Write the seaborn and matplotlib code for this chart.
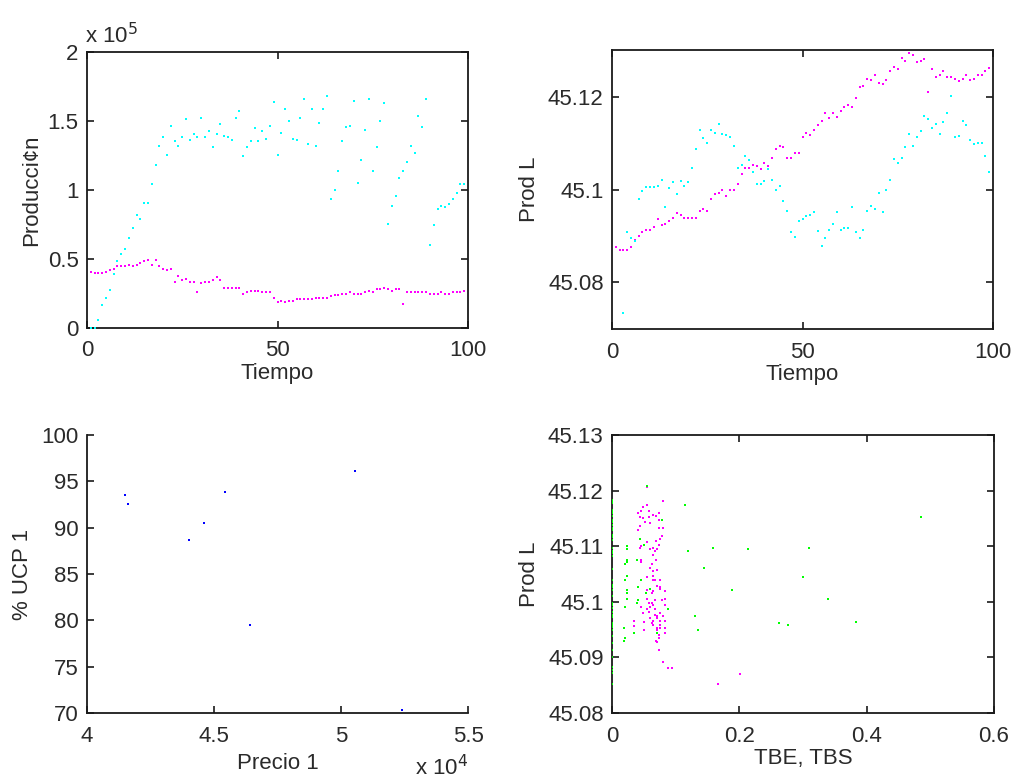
import numpy as np
import pandas as pd
import matplotlib
matplotlib.use("Agg")
import matplotlib.pyplot as plt
from matplotlib.ticker import FuncFormatter
import seaborn as sns

# ---------------- data ----------------
tiempo = list(range(1, 100))

# Producción (units of 1e5)
prod_cyan_e5 = [0.0, 0.0, 0.060, 0.164, 0.219, 0.272, 0.388, 0.482, 0.535, 0.576,
                0.651, 0.728, 0.822, 0.790, 0.906, 0.906, 1.043, 1.183, 1.318, 1.383,
                1.255, 1.467, 1.352, 1.318, 1.383, 1.511, 1.361, 1.405, 1.383, 1.520,
                1.383, 1.427, 1.308, 1.405, 1.477, 1.393, 1.383, 1.361, 1.520, 1.573,
                1.246, 1.308, 1.352, 1.446, 1.352, 1.427, 1.371, 1.467, 1.639, 1.255,
                1.414, 1.586, 1.499, 1.373, 1.361, 1.520, 1.660, 1.330, 1.586, 1.318,
                1.489, 1.586, 1.682, 0.937, 1.000, 1.140, 1.352, 1.458, 1.467, 1.648,
                1.053, 1.214, 1.436, 1.660, 1.140, 1.308, 1.499, 1.627, 0.757, 0.884,
                0.959, 1.087, 1.140, 1.202, 1.318, 1.265, 1.533, 1.458, 1.660, 0.598,
                0.747, 0.863, 0.884, 0.875, 0.896, 0.937, 0.981, 1.043, 1.043]
prod_mag_e5 = [0.407, 0.398, 0.398, 0.398, 0.407, 0.419, 0.429, 0.451, 0.451, 0.451,
               0.460, 0.451, 0.460, 0.472, 0.482, 0.494, 0.460, 0.494, 0.451, 0.429,
               0.419, 0.429, 0.333, 0.376, 0.345, 0.354, 0.333, 0.333, 0.258, 0.323,
               0.333, 0.333, 0.345, 0.366, 0.345, 0.292, 0.292, 0.292, 0.292, 0.292,
               0.248, 0.258, 0.270, 0.270, 0.270, 0.258, 0.258, 0.258, 0.219, 0.186,
               0.198, 0.186, 0.198, 0.198, 0.207, 0.207, 0.207, 0.207, 0.207, 0.219,
               0.219, 0.219, 0.219, 0.231, 0.239, 0.239, 0.248, 0.248, 0.258, 0.248,
               0.248, 0.248, 0.258, 0.270, 0.258, 0.282, 0.282, 0.292, 0.282, 0.270,
               0.282, 0.282, 0.173, 0.258, 0.258, 0.258, 0.258, 0.258, 0.258, 0.248,
               0.248, 0.248, 0.258, 0.248, 0.248, 0.258, 0.258, 0.258, 0.270]

# Prod L
prodL_cyan = [np.nan, np.nan, 45.0734, 45.0908, 45.0895, 45.0889, 45.0981, 45.0997, 45.1006, 45.1006,
              45.1006, 45.1009, 45.1022, 45.0962, 45.1003, 45.1016, 45.0990, 45.1019, 45.1009, 45.1016,
              45.1048, 45.1089, 45.1130, 45.1111, 45.1101, 45.1130, 45.1123, 45.1143, 45.1121, 45.1118,
              45.1114, 45.1095, 45.1048, 45.1054, 45.1073, 45.1064, 45.1038, 45.1012, 45.1012, 45.1019,
              45.1044, 45.1022, 45.1000, 45.1009, 45.0975, 45.0955, 45.0908, 45.0898, 45.0933, 45.0936,
              45.0943, 45.0946, 45.0952, 45.0910, 45.0879, 45.0895, 45.0914, 45.0926, 45.0952, 45.0914,
              45.0917, 45.0917, 45.0962, 45.0908, 45.0895, 45.0914, 45.0955, 45.0965, 45.0958, 45.0994,
              45.0952, 45.1000, 45.1022, 45.1066, 45.1057, 45.1069, 45.1092, 45.1121, 45.1095, 45.1114,
              45.1127, 45.1159, 45.1152, 45.1133, 45.1143, 45.1121, 45.1146, 45.1165, 45.1203, 45.1114,
              45.1117, 45.1149, 45.1139, 45.1108, 45.1098, 45.1101, 45.1101, 45.1073, 45.1038]
prodL_mag = [45.0876, 45.0869, 45.0869, 45.0869, 45.0876, 45.0892, 45.0901, 45.0908, 45.0914, 45.0914,
             45.0920, 45.0936, 45.0923, 45.0926, 45.0933, 45.0939, 45.0949, 45.0946, 45.0939, 45.0939,
             45.0939, 45.0939, 45.0955, 45.0958, 45.0955, 45.0981, 45.0990, 45.0994, 45.0999, 45.0987,
             45.0999, 45.0999, 45.1012, 45.1035, 45.1048, 45.1048, 45.1054, 45.1051, 45.1044, 45.1057,
             45.1051, 45.1069, 45.1089, 45.1095, 45.1092, 45.1069, 45.1069, 45.1079, 45.1079, 45.1114,
             45.1123, 45.1118, 45.1130, 45.1139, 45.1149, 45.1165, 45.1155, 45.1165, 45.1158, 45.1171,
             45.1178, 45.1183, 45.1178, 45.1199, 45.1222, 45.1225, 45.1240, 45.1238, 45.1247, 45.1231,
             45.1228, 45.1238, 45.1256, 45.1266, 45.1260, 45.1284, 45.1279, 45.1295, 45.1291, 45.1275,
             45.1279, 45.1282, 45.1212, 45.1260, 45.1244, 45.1247, 45.1256, 45.1244, 45.1244, 45.1240,
             45.1234, 45.1240, 45.1247, 45.1238, 45.1240, 45.1247, 45.1247, 45.1256, 45.1263]

# Precio 1 vs % UCP 1
precio1 = [41496, 41614, 44029, 44606, 45420, 46404, 50551, 52402]
ucp1 = [93.53, 92.60, 88.65, 90.55, 93.89, 79.49, 96.08, 70.32]

# TBE (magenta) vs Prod L
tbe_x = [0.0554, 0.0804, 0.0480, 0.0548, 0.0413, 0.0460, 0.0574, 0.0642, 0.0731, 0.0689,
         0.0439, 0.0480, 0.0574, 0.0512, 0.0595, 0.0731, 0.0439, 0.0736, 0.0804, 0.0413,
         0.0783, 0.0757, 0.0689, 0.0548, 0.0736, 0.0460, 0.0439, 0.0595, 0.0642, 0.0668,
         0.0710, 0.0642, 0.0689, 0.0460, 0.0460, 0.0621, 0.0595, 0.0710, 0.0642, 0.0553,
         0.0642, 0.0642, 0.0668, 0.0757, 0.0710, 0.0757, 0.0757, 0.0553, 0.0642, 0.0621,
         0.0825, 0.0548, 0.0668, 0.0783, 0.0825, 0.0574, 0.0621, 0.0642, 0.0460, 0.0548,
         0.0595, 0.0668, 0.0825, 0.0480, 0.0574, 0.0757, 0.0668, 0.0710, 0.0710, 0.0804,
         0.0595, 0.0507, 0.0642, 0.0757, 0.0825, 0.0621, 0.0642, 0.0757, 0.0345, 0.0345,
         0.0710, 0.0757, 0.0825, 0.0710, 0.0507, 0.0710, 0.0731, 0.0825, 0.0731, 0.0689,
         0.0710, 0.0736, 0.0804, 0.0872, 0.0940, 0.1671, 0.2005]
tbe_y = [45.1207, 45.1181, 45.1171, 45.1174, 45.1160, 45.1163, 45.1163, 45.1157, 45.1160, 45.1155,
         45.1153, 45.1150, 45.1153, 45.1144, 45.1142, 45.1147, 45.1137, 45.1132, 45.1132, 45.1129,
         45.1119, 45.1113, 45.1110, 45.1108, 45.1102, 45.1100, 45.1097, 45.1095, 45.1097, 45.1092,
         45.1095, 45.1084, 45.1076, 45.1076, 45.1071, 45.1068, 45.1060, 45.1058, 45.1055, 45.1045,
         45.1047, 45.1040, 45.1040, 45.1040, 45.1029, 45.1026, 45.1023, 45.1021, 45.1019, 45.1016,
         45.1019, 45.1005, 45.1003, 45.1003, 45.1005, 45.0998, 45.0998, 45.0995, 45.0990, 45.0987,
         45.0990, 45.0987, 45.0995, 45.0979, 45.0981, 45.0979, 45.0977, 45.0974, 45.0971, 45.0974,
         45.0971, 45.0963, 45.0966, 45.0966, 45.0966, 45.0961, 45.0958, 45.0958, 45.0966, 45.0956,
         45.0953, 45.0953, 45.0953, 45.0950, 45.0950, 45.0943, 45.0940, 45.0943, 45.0935, 45.0929,
         45.0927, 45.0913, 45.0892, 45.0881, 45.0881, 45.0853, 45.0871]

# TBS (green) vs Prod L
tbs_x = [0.0] * 43 + [
    0.0554, 0.1149, 0.0783, 0.0439, 0.0507, 0.0230, 0.0230, 0.1190, 0.1587, 0.0230,
    0.0392, 0.0230, 0.0209, 0.1446, 0.0230, 0.0209, 0.0460, 0.0413, 0.0595, 0.0230,
    0.1885, 0.0230, 0.0527, 0.0230, 0.0413, 0.0392, 0.0209, 0.0872, 0.1305, 0.0183,
    0.1352, 0.0345, 0.0710, 0.0209, 0.0183, 0.2130, 0.3097, 0.4846, 0.3003, 0.3389,
    0.2616, 0.2768, 0.3828]
tbs_y = [45.1183, 45.1180, 45.1177, 45.1165, 45.1162, 45.1159, 45.1154, 45.1147, 45.1144, 45.1139,
         45.1132, 45.1129, 45.1120, 45.1117, 45.1111, 45.1096, 45.1092, 45.1087, 45.1082, 45.1059,
         45.1039, 45.1030, 45.1026, 45.1021, 45.1010, 45.0998, 45.0994, 45.0988, 45.0982, 45.0977,
         45.0972, 45.0962, 45.0958, 45.0954, 45.0949, 45.0939, 45.0926, 45.0913, 45.0901, 45.0882,
         45.0877, 45.0872, 45.0853] + [
    45.1208, 45.1174, 45.1147, 45.1113, 45.1102, 45.1100, 45.1095, 45.1092, 45.1097, 45.1076,
    45.1076, 45.1071, 45.1068, 45.1060, 45.1047, 45.1040, 45.1040, 45.1026, 45.1023, 45.1021,
    45.1021, 45.1016, 45.1016, 45.1005, 45.1003, 45.0998, 45.0990, 45.0987, 45.0974, 45.0953,
    45.0950, 45.0943, 45.0943, 45.0934, 45.0929, 45.1095, 45.1097, 45.1152, 45.1045, 45.1005,
    45.0961, 45.0958, 45.0964]

# ---------------- style ----------------
sns.set_style("white")
plt.rcParams['font.family'] = ['Liberation Sans', 'DejaVu Sans']
FS = 16
TXT = '#2a2a2a'
plt.rcParams.update({
    'font.size': FS,
    'axes.labelsize': FS,
    'xtick.labelsize': FS,
    'ytick.labelsize': FS,
    'text.color': TXT,
    'axes.labelcolor': TXT,
    'xtick.color': TXT,
    'ytick.color': TXT,
})

CYAN, MAG, GREEN, BLUE = '#00FFFF', '#FF00FF', '#00FF00', '#0000FF'
MS = 2.6

W, H = 1015, 778
fig = plt.figure(figsize=(W / 100, H / 100), dpi=100)


def box(l, t, r, b):
    return [l / W, 1 - b / H, (r - l) / W, (b - t) / H]


def style_axes(ax, full_box=True):
    for s in ax.spines.values():
        s.set_color('#1a1a1a')
        s.set_linewidth(1.3)
    if not full_box:
        ax.spines['top'].set_visible(False)
        ax.spines['right'].set_visible(False)
    ax.tick_params(direction='in', length=5, width=1.2, color='#1a1a1a',
                   top=full_box, right=full_box, bottom=True, left=True)
    ax.tick_params(axis='x', pad=9)
    ax.tick_params(axis='y', pad=6)


def fmt(v):
    s = f"{v:.4f}".rstrip('0').rstrip('.')
    return s


def scatter(ax, x, y, color, z=2):
    df = pd.DataFrame({'x': x, 'y': y})
    sns.scatterplot(data=df, x='x', y='y', color=color, s=MS, linewidth=0,
                    marker='s', ax=ax, legend=False, zorder=z)


# Top-left: Producción vs Tiempo
ax1 = fig.add_axes(box(87, 52, 468, 328))
scatter(ax1, tiempo, np.array(prod_mag_e5) * 1e5, MAG)
scatter(ax1, tiempo, np.array(prod_cyan_e5) * 1e5, CYAN, z=3)
ax1.set_xlim(0, 100)
ax1.set_ylim(0, 2e5)
ax1.set_xticks([0, 50, 100])
ax1.set_yticks([0, 0.5e5, 1e5, 1.5e5, 2e5])
ax1.yaxis.set_major_formatter(FuncFormatter(lambda v, p: fmt(v / 1e5)))
ax1.set_xlabel('Tiempo', labelpad=1)
ax1.set_ylabel('Producci\u00a2n', labelpad=4)
ax1.text(-0.005, 1.012, r'x 10$^5$', transform=ax1.transAxes, ha='left', va='bottom', fontsize=FS)
style_axes(ax1)

# Top-right: Prod L vs Tiempo
ax2 = fig.add_axes(box(612, 50, 993, 329))
scatter(ax2, tiempo, prodL_mag, MAG)
scatter(ax2, tiempo, prodL_cyan, CYAN)
ax2.set_xlim(0, 100)
ax2.set_ylim(45.0699, 45.1302)
ax2.set_xticks([0, 50, 100])
ax2.set_yticks([45.08, 45.10, 45.12])
ax2.yaxis.set_major_formatter(FuncFormatter(lambda v, p: fmt(v)))
ax2.set_xlabel('Tiempo', labelpad=1)
ax2.set_ylabel('Prod L', labelpad=6)
style_axes(ax2)

# Bottom-left: % UCP 1 vs Precio 1
ax3 = fig.add_axes(box(87, 435, 468, 713))
scatter(ax3, precio1, ucp1, BLUE)
ax3.set_xlim(4e4, 5.5e4)
ax3.set_ylim(70, 100)
ax3.set_xticks([4e4, 4.5e4, 5e4, 5.5e4])
ax3.set_yticks([70, 75, 80, 85, 90, 95, 100])
ax3.xaxis.set_major_formatter(FuncFormatter(lambda v, p: fmt(v / 1e4)))
ax3.set_xlabel('Precio 1', labelpad=5)
ax3.set_ylabel('% UCP 1', labelpad=6)
ax3.text(0.86, -0.15, r'x 10$^4$', transform=ax3.transAxes, ha='left', va='top', fontsize=FS)
style_axes(ax3, full_box=False)

# Bottom-right: Prod L vs TBE, TBS
ax4 = fig.add_axes(box(612, 435, 994, 713))
scatter(ax4, tbe_x, tbe_y, MAG)
scatter(ax4, tbs_x, tbs_y, GREEN, z=3)
ax4.set_xlim(0, 0.6)
ax4.set_ylim(45.08, 45.13)
ax4.set_xticks([0, 0.2, 0.4, 0.6])
ax4.set_yticks([45.08, 45.09, 45.10, 45.11, 45.12, 45.13])
ax4.xaxis.set_major_formatter(FuncFormatter(lambda v, p: fmt(v)))
ax4.yaxis.set_major_formatter(FuncFormatter(lambda v, p: fmt(v)))
ax4.set_xlabel('TBE, TBS', labelpad=1)
ax4.set_ylabel('Prod L', labelpad=6)
style_axes(ax4)

fig.savefig('out.png', dpi=100, facecolor='white')
